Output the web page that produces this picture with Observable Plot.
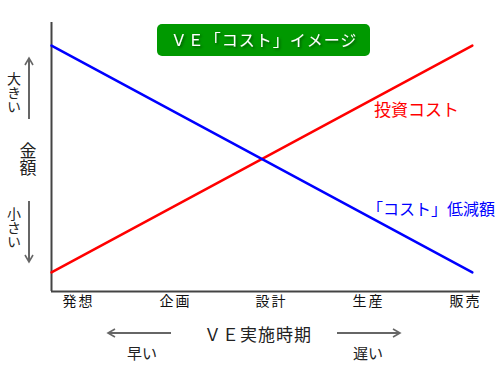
<!DOCTYPE html>
<html><head><meta charset="utf-8">
<script src="https://cdn.jsdelivr.net/npm/d3@7"></script>
<script src="https://cdn.jsdelivr.net/npm/@observablehq/plot@0.6"></script>
<style>
body{margin:0;background:#fff;font-family:"Noto Sans CJK JP",sans-serif;}
#chart{position:relative;width:500px;height:380px;}
</style></head>
<body><div id="chart"></div>
<script>
const title = "ＶＥ「コスト」イメージ";
const phases = ["発想", "企画", "設計", "生産", "販売"];
const phasePos = [6.3, 28.9, 51.3, 73.9, 96.5];
const lineX = [0, 98.1];
const investCost = [7.1, 91.4];
const costReduction = [91.4, 7.1];
const seriesNames = ["投資コスト", "「コスト」低減額"];
const seriesColors = ["#ff0000", "#0000ff"];

const rows = [];
lineX.forEach((x, i) => {
  rows.push({series: seriesNames[0], x, y: investCost[i]});
  rows.push({series: seriesNames[1], x, y: costReduction[i]});
});

const font = '"Noto Sans CJK JP", sans-serif';
const plot = Plot.plot({
  width: 500, height: 380,
  marginLeft: 51, marginRight: 20, marginTop: 22, marginBottom: 89,
  style: {fontFamily: font, fontSize: "14px", color: "#111", background: "#fff"},
  x: {domain: [0, 100], ticks: phasePos, tickFormat: (d, i) => phases[i], tickSize: 0, tickPadding: 5, label: null},
  y: {domain: [0, 100], axis: null},
  color: {domain: seriesNames, range: seriesColors},
  marks: [
    Plot.ruleX([0], {stroke: "#444", strokeWidth: 2}),
    Plot.ruleY([0], {stroke: "#444", strokeWidth: 2}),
    Plot.line(rows, {x: "x", y: "y", z: "series", stroke: "series", strokeWidth: 2.5})
  ]
});
document.getElementById("chart").appendChild(plot);

const svg = d3.select(plot);
svg.selectAll("[aria-label='x-axis tick label'] text").style("letter-spacing", "2px");
const defs = svg.append("defs");
const f = defs.append("filter").attr("id", "sh").attr("x", "-20%").attr("y", "-50%").attr("width", "140%").attr("height", "200%");
f.append("feDropShadow").attr("dx", 1.5).attr("dy", 1.5).attr("stdDeviation", 1).attr("flood-color", "#004400").attr("flood-opacity", 0.8);
const mk = defs.append("marker").attr("id", "ah").attr("viewBox", "0 0 10 10").attr("refX", 8).attr("refY", 5)
  .attr("markerWidth", 5).attr("markerHeight", 5).attr("orient", "auto-start-reverse");
mk.append("path").attr("d", "M1,1 L8,5 L1,9").attr("fill", "none").attr("stroke", "#666").attr("stroke-width", 1.6);

const g = svg.append("g").attr("font-family", font).attr("text-anchor", "start");
// title box
g.append("rect").attr("x", 157).attr("y", 24).attr("width", 213).attr("height", 32).attr("rx", 5).attr("fill", "#009900");
g.append("text").attr("x", 264).attr("y", 46).attr("text-anchor", "middle").attr("fill", "#fff")
  .style("font-size", "16px").attr("letter-spacing", 1).attr("filter", "url(#sh)").text(title);

// series labels
g.append("text").attr("x", 374).attr("y", 116).attr("fill", seriesColors[0]).style("font-size", "17px").text(seriesNames[0]);
g.append("text").attr("x", 367).attr("y", 215).attr("fill", seriesColors[1]).style("font-size", "16px").text(seriesNames[1]);

// left labels
const vt = (x, y, s, size) => g.append("text").attr("x", x).attr("y", y).style("font-size", size + "px").attr("fill", "#222")
  .style("writing-mode", "vertical-rl").attr("text-anchor", "start").text(s);
vt(14, 72, "大きい", 14);
vt(14, 207, "小さい", 14);
vt(28, 142, "金額", 17);
const arr = (x1, y1, x2, y2) => g.append("line").attr("x1", x1).attr("y1", y1).attr("x2", x2).attr("y2", y2)
  .attr("stroke", "#666").attr("stroke-width", 2).attr("marker-end", "url(#ah)");
arr(29, 119, 29, 58);
arr(29, 201, 29, 262);
arr(171, 333, 108, 333);
arr(337, 333, 400, 333);

// bottom labels
g.append("text").attr("x", 258).attr("y", 341).attr("text-anchor", "middle").style("font-size", "17px").attr("letter-spacing", 1).attr("fill", "#222").text("ＶＥ実施時期");
g.append("text").attr("x", 142).attr("y", 359).attr("text-anchor", "middle").style("font-size", "15px").attr("fill", "#222").text("早い");
g.append("text").attr("x", 368).attr("y", 359).attr("text-anchor", "middle").style("font-size", "15px").attr("fill", "#222").text("遅い");
</script></body></html>
